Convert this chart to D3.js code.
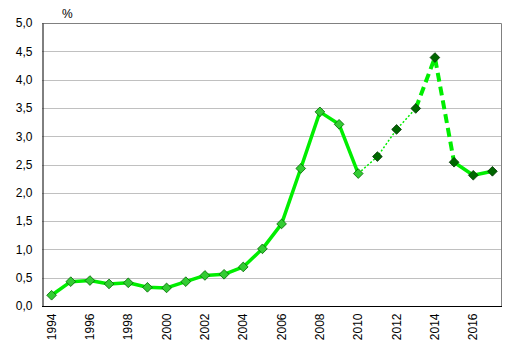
<!DOCTYPE html>
<html><head><meta charset="utf-8">
<script src="https://cdn.jsdelivr.net/npm/d3@7"></script>
<style>body{margin:0;background:#fff}svg{display:block}text{font-family:"Liberation Sans",Arial,sans-serif;fill:#000}</style>
</head><body><svg id="c" width="515" height="355"></svg>
<script>
const years = [1994,1995,1996,1997,1998,1999,2000,2001,2002,2003,2004,2005,2006,2007,2008,2009,2010,2011,2012,2013,2014,2015,2016,2017];
const values = [0.19,0.43,0.45,0.39,0.41,0.33,0.32,0.43,0.54,0.56,0.69,1.01,1.45,2.43,3.43,3.21,2.34,2.64,3.12,3.49,4.39,2.54,2.31,2.38];
const yTicks = [0,0.5,1,1.5,2,2.5,3,3.5,4,4.5,5];
const xTickYears = [1994,1996,1998,2000,2002,2004,2006,2008,2010,2012,2014,2016];
const unitLabel = "%";
const lastLightYear = 2010;
// segment styles: [fromYear, toYear, style]
const segments = [[1994,2010,"solid"],[2010,2013,"dotted"],[2013,2015,"dashed"],[2015,2017,"solid"]];

const svg = d3.select("#c");
const L=42, R=502, T=23, B=306;
const x = d3.scaleBand().domain(years).range([L,R]);
const cx = d => x(d)+x.bandwidth()/2;
const y = d3.scaleLinear().domain([0,5]).range([B,T]);

// gridlines
svg.append("g").selectAll("line").data(yTicks.filter(t=>t>0&&t<5)).join("line")
  .attr("x1",L).attr("x2",R).attr("y1",d=>Math.round(y(d))+0.5).attr("y2",d=>Math.round(y(d))+0.5)
  .attr("stroke","#c0c0c0").attr("stroke-width",1);
// border top/right
svg.append("path").attr("d",`M${L},${T+0.5}H${R-0.5}V${B}`).attr("fill","none").attr("stroke","#808080");

// y axis
const ya = svg.append("g").attr("transform",`translate(${L+0.5},0)`)
  .call(d3.axisLeft(y).tickValues(yTicks).tickSize(0).tickPadding(10).tickFormat(d=>d3.format(".1f")(d).replace(".",",")));
ya.select(".domain").attr("stroke","#000");
ya.selectAll("text").attr("font-size",12).attr("font-family","Liberation Sans, Arial, sans-serif").attr("fill","#000");

// x axis
const xa = svg.append("g").attr("transform",`translate(0,${B+0.5})`)
  .call(d3.axisBottom(x).tickValues(xTickYears).tickSize(0).tickFormat(d=>String(d)));
xa.select(".domain").attr("stroke","#000").attr("d",`M${L},0H${R}`);
xa.selectAll("text").attr("font-size",12).attr("font-family","Liberation Sans, Arial, sans-serif").attr("fill","#000")
  .attr("transform","rotate(-90)").attr("text-anchor","end").attr("x",-7).attr("y",0).attr("dy","0.35em");

svg.append("text").attr("x",62).attr("y",18).attr("font-size",12).text(unitLabel);

// lines
const data = years.map((yr,i)=>({yr,v:values[i]}));
const line = d3.line().x(d=>cx(d.yr)).y(d=>y(d.v));
const styleMap = {
  solid:{w:3.5,dash:null},
  dotted:{w:1.5,dash:"2,2"},
  dashed:{w:4,dash:"9,5"}
};
segments.forEach(([a,b,s])=>{
  const seg = data.filter(d=>d.yr>=a&&d.yr<=b);
  svg.append("path").datum(seg).attr("d",line).attr("fill","none")
    .attr("stroke","#00ee00").attr("stroke-width",styleMap[s].w)
    .attr("stroke-dasharray",styleMap[s].dash).attr("stroke-linejoin","round");
});

// markers
const sym = d3.symbol().type(d3.symbolDiamond2).size(60);
svg.append("g").selectAll("path").data(data).join("path")
  .attr("transform",d=>`translate(${cx(d.yr)},${y(d.v)})`)
  .attr("d",sym)
  .attr("fill",d=>d.yr<=lastLightYear?"#33cc33":"#006600")
  .attr("stroke",d=>d.yr<=lastLightYear?"#006600":"#003300").attr("stroke-width",0.8);
</script></body></html>
